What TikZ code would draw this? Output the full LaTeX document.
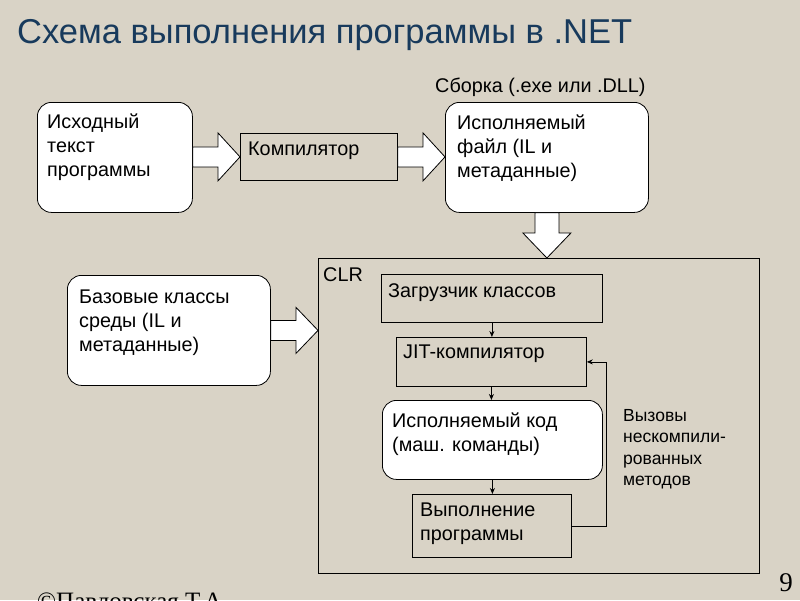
\documentclass[tikz,border=0pt]{standalone}
\usepackage{fontspec}
\setmainfont{Liberation Sans}
\newfontfamily\serifrm{Liberation Serif}
\usetikzlibrary{calc,arrows.meta}
\definecolor{bg}{RGB}{217,211,198}
\definecolor{titleblue}{RGB}{24,58,92}
\begin{document}
\begin{tikzpicture}[x=1pt,y=-1pt,
  rbox/.style={draw=black, fill=white, rounded corners=14pt, line width=0.8pt, anchor=north west, inner sep=0pt},
  pbox/.style={draw=black, line width=0.8pt, anchor=north west, inner sep=0pt},
  txt/.style={anchor=north west, inner sep=0pt, align=left, font=\fontsize{19.8}{24}\selectfont},
  smalltxt/.style={anchor=north west, inner sep=0pt, align=left, font=\fontsize{17.5}{21.5}\selectfont},
  barrow/.style={draw=black, fill=white, line width=0.8pt, line join=miter},
  thinarr/.style={draw=black, line width=0.8pt, -{Stealth[length=6pt,width=5pt]}}
]
\fill[bg] (0,0) rectangle (800,600);
\useasboundingbox (0,0) rectangle (800,600);

% title
\node[anchor=north west, inner sep=0pt, text=titleblue, font=\fontsize{34.5}{38}\selectfont] (title) at (17,19) {Схема выполнения программы в .NET};
\node[anchor=north west, inner sep=0pt, font=\fontsize{19.8}{22}\selectfont] (asm) at (435,78) {Сборка (.exe или .DLL)};

% top row
\node[rbox, minimum width=155pt, minimum height=110pt] (src) at (37,102) {};
\node[txt] (srct) at (47,114) {Исходный\\текст\\программы};
\node[pbox, minimum width=157pt, minimum height=47pt] (comp) at (240,133) {};
\node[txt] (compt) at (248,142) {Компилятор};
\node[rbox, minimum width=203pt, minimum height=110pt] (exe) at (445,102) {};
\node[txt] (exet) at (457,115) {Исполняемый\\файл (IL и\\метаданные)};

% CLR
\node[pbox, minimum width=441pt, minimum height=315pt] (clr) at (318,258) {};
\node[txt] (clrt) at (323,267) {CLR};
\node[rbox, minimum width=203pt, minimum height=110pt] (base) at (67,275) {};
\node[txt] (baset) at (79,290) {Базовые классы\\среды (IL и\\метаданные)};

\node[pbox, minimum width=221pt, minimum height=48pt] (load) at (381,274) {};
\node[txt] (loadt) at (388,283) {Загрузчик классов};
\node[pbox, minimum width=190pt, minimum height=49pt] (jit) at (396,337) {};
\node[txt] (jitt) at (403,345) {JIT-компилятор};
\node[rbox, minimum width=220pt, minimum height=79pt] (code) at (382,400) {};
\node[txt] (codet) at (392,413) {Исполняемый код\\(маш. команды)};
\node[pbox, minimum width=159pt, minimum height=63pt] (run) at (412,494) {};
\node[txt] (runt) at (420,503) {Выполнение\\программы};
\node[smalltxt] (calls) at (623,409) {Вызовы\\нескомпили-\\рованных\\методов};

% block arrows
\draw[barrow] ($(src.east |- comp.west)+(0,-10)$) -- ($(comp.west)+(-22,-10)$) -- ($(comp.west)+(-22,-24)$) -- (comp.west) -- ($(comp.west)+(-22,24)$) -- ($(comp.west)+(-22,10)$) -- ($(src.east |- comp.west)+(0,10)$) -- cycle;
\draw[barrow] ($(comp.east)+(0,-10)$) -- ($(exe.west |- comp.east)+(-22,-10)$) -- ($(exe.west |- comp.east)+(-22,-24)$) -- (exe.west |- comp.east) -- ($(exe.west |- comp.east)+(-22,24)$) -- ($(exe.west |- comp.east)+(-22,10)$) -- ($(comp.east)+(0,10)$) -- cycle;
\draw[barrow] ($(base.east)+(0,-10)$) -- ($(clr.west |- base.east)+(-22,-10)$) -- ($(clr.west |- base.east)+(-22,-23)$) -- (clr.west |- base.east) -- ($(clr.west |- base.east)+(-22,23)$) -- ($(clr.west |- base.east)+(-22,10)$) -- ($(base.east)+(0,10)$) -- cycle;
\draw[barrow] ($(exe.south)+(-12,0)$) -- ($(exe.south |- clr.north)+(-12,-25)$) -- ($(exe.south |- clr.north)+(-24,-25)$) -- (exe.south |- clr.north) -- ($(exe.south |- clr.north)+(24,-25)$) -- ($(exe.south |- clr.north)+(12,-25)$) -- ($(exe.south)+(12,0)$) -- cycle;

% thin arrows
\draw[thinarr] (load.south) -- (load.south |- jit.north);
\draw[thinarr] (jit.south) -- (jit.south |- code.north);
\draw[thinarr] (code.south) -- (code.south |- run.north);
\draw[thinarr] (run.east) -- ($(run.east)+(35,0)$) |- (jit.east);

% footer
\node[anchor=base west, inner sep=0pt, font=\serifrm\fontsize{25}{28}\selectfont] (author) at (37,609) {©Павловская Т.А.};
\node[anchor=base east, inner sep=0pt, font=\serifrm\fontsize{27}{30}\selectfont] (page) at (793,591) {9};
\end{tikzpicture}
\end{document}
